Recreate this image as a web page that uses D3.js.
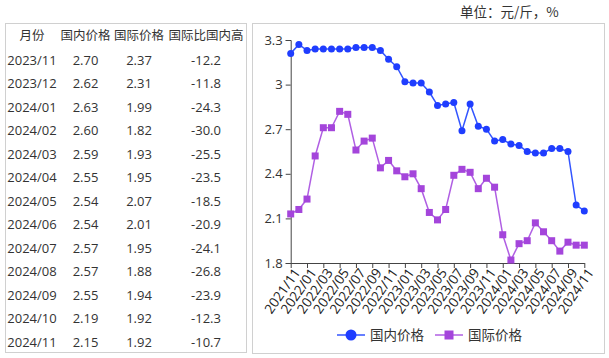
<!DOCTYPE html>
<html>
<head>
<meta charset="utf-8">
<script src="https://cdn.jsdelivr.net/npm/d3@7"></script>
<style>
  body { margin: 0; background: #fff; }
  svg { display: block; font-family: "Noto Sans CJK SC", "Noto Sans", sans-serif; }
</style>
</head>
<body>
<div id="chart"></div>
<script>
// monthly prices, yuan per jin
const months = [
  '2021/11', '2021/12', '2022/01', '2022/02', '2022/03', '2022/04', '2022/05', '2022/06',
  '2022/07', '2022/08', '2022/09', '2022/10', '2022/11', '2022/12', '2023/01', '2023/02',
  '2023/03', '2023/04', '2023/05', '2023/06', '2023/07', '2023/08', '2023/09', '2023/10',
  '2023/11', '2023/12', '2024/01', '2024/02', '2024/03', '2024/04', '2024/05', '2024/06',
  '2024/07', '2024/08', '2024/09', '2024/10', '2024/11'
];
const domestic = [
  3.21, 3.27, 3.23, 3.24, 3.24, 3.24, 3.24, 3.24, 3.25, 3.25, 3.25, 3.23, 3.17, 3.12,
  3.02, 3.01, 3.01, 2.95, 2.86, 2.87, 2.88, 2.69, 2.87, 2.72,
  2.70, 2.62, 2.63, 2.60, 2.59, 2.55, 2.54, 2.54, 2.57, 2.57, 2.55, 2.19, 2.15
];
const international = [
  2.13, 2.16, 2.23, 2.52, 2.71, 2.71, 2.82, 2.80, 2.56, 2.62, 2.64, 2.44, 2.49, 2.42,
  2.38, 2.40, 2.30, 2.14, 2.09, 2.16, 2.39, 2.43, 2.41, 2.30,
  2.37, 2.31, 1.99, 1.82, 1.93, 1.95, 2.07, 2.01, 1.95, 1.88, 1.94, 1.92, 1.92
];
// 国际比国内高 (%), last 13 months
const gapPct = [-12.2, -11.8, -24.3, -30.0, -25.5, -23.5, -18.5, -20.9, -24.1, -26.8, -23.9, -12.3, -10.7];
const tableHeaders = ['月份', '国内价格', '国际价格', '国际比国内高'];
const yTicks = [1.8, 2.1, 2.4, 2.7, 3.0, 3.3];
const seriesNames = ['国内价格', '国际价格'];

const W = 609, H = 358;
const svg = d3.select('#chart').append('svg').attr('width', W).attr('height', H);

// ---- table ----
const nRows = gapPct.length;
const start = months.length - nRows;
const rows = d3.range(nRows).map(i => [
  months[start + i],
  domestic[start + i].toFixed(2),
  international[start + i].toFixed(2),
  gapPct[i].toFixed(1)
]);

svg.append('rect')
  .attr('x', 5.5).attr('y', 23.5).attr('width', 241).attr('height', 329)
  .attr('fill', 'none').attr('stroke', '#d0d0d0');

const colX = [32, 85.5, 139, 206];
const table = svg.append('g').attr('fill', '#333');
table.selectAll('.head')
  .data(tableHeaders)
  .enter().append('text')
  .attr('x', (d, i) => colX[i])
  .attr('y', 36)
  .attr('dy', '0.35em')
  .attr('text-anchor', 'middle')
  .style('font-size', '12.5px')
  .text(d => d);

rows.forEach((r, ri) => {
  table.selectAll('.r' + ri)
    .data(r)
    .enter().append('text')
    .attr('x', (d, i) => colX[i])
    .attr('y', 60 + ri * 23.5)
    .attr('dy', '0.35em')
    .attr('text-anchor', 'middle')
    .style('font-size', '13px')
    .style('font-family', '"Open Sans", "Noto Sans", sans-serif')
    .text(d => d);
});

// ---- chart ----
svg.append('text')
  .attr('x', 460).attr('y', 12).attr('dy', '0.35em')
  .attr('fill', '#333')
  .style('font-size', '13.5px')
  .style('font-family', '"Noto Sans CJK SC", serif')
  .text('单位：元/斤，%');

svg.append('rect')
  .attr('x', 252.5).attr('y', 23.5).attr('width', 352).attr('height', 330)
  .attr('fill', 'none').attr('stroke', '#d0d0d0');

const x = d3.scalePoint().domain(months).range([290.7, 584.3]);
const y = d3.scaleLinear().domain([1.8, 3.3]).range([263, 40]);

const yAxis = svg.append('g')
  .attr('transform', 'translate(290.7,0)')
  .call(d3.axisLeft(y).tickValues(yTicks).tickSize(5).tickPadding(3)
    .tickFormat(d => d3.format('~g')(d)));
yAxis.select('.domain').attr('stroke', '#444');
yAxis.selectAll('.tick line').attr('stroke', '#444');
yAxis.selectAll('text').attr('fill', '#333').style('font-size', '13px')
  .style('font-family', '"Open Sans", "Noto Sans", sans-serif');

const xAxis = svg.append('g')
  .attr('transform', 'translate(0,263)')
  .call(d3.axisBottom(x).tickValues(months.filter((d, i) => i % 2 === 0)).tickSize(5).tickSizeOuter(0));
xAxis.select('.domain').attr('stroke', '#444');
xAxis.selectAll('.tick line').attr('stroke', '#444');
xAxis.selectAll('text')
  .attr('fill', '#222')
  .style('font-size', '13.5px')
  .style('font-family', '"Open Sans", "Noto Sans", sans-serif')
  .attr('text-anchor', 'end')
  .attr('transform', 'translate(3,5) rotate(-55)')
  .attr('x', 0).attr('y', 0)
  .attr('dy', '0.6em');

const colors = ['#1f3dff', '#a445db'];
const lineColors = ['#3355ff', '#b05fe3'];
const series = [domestic, international];

const line = d3.line().x((d, i) => x(months[i])).y(d => y(d));

series.forEach((vals, si) => {
  svg.append('path')
    .datum(vals)
    .attr('d', line)
    .attr('fill', 'none')
    .attr('stroke', lineColors[si])
    .attr('stroke-width', 1.5);
  if (si === 0) {
    svg.selectAll('.dot0')
      .data(vals)
      .enter().append('circle')
      .attr('cx', (d, i) => x(months[i]))
      .attr('cy', d => y(d))
      .attr('r', 3.5)
      .attr('fill', colors[0]);
  } else {
    svg.selectAll('.dot1')
      .data(vals)
      .enter().append('rect')
      .attr('x', (d, i) => x(months[i]) - 3.5)
      .attr('y', d => y(d) - 3.5)
      .attr('width', 7).attr('height', 7)
      .attr('fill', colors[1]);
  }
});

// legend
const legend = svg.append('g').attr('transform', 'translate(0,335)');
const legX = [337, 435];
seriesNames.forEach((name, i) => {
  const g = legend.append('g').attr('transform', `translate(${legX[i]},0)`);
  g.append('line').attr('x1', 0).attr('x2', 28).attr('stroke', lineColors[i]).attr('stroke-width', 1.5);
  if (i === 0) {
    g.append('circle').attr('cx', 14).attr('r', 5.5).attr('fill', colors[0]);
  } else {
    g.append('rect').attr('x', 9.5).attr('y', -4.5).attr('width', 9).attr('height', 9).attr('fill', colors[1]);
  }
  g.append('text').attr('x', 33).attr('dy', '0.35em')
    .attr('fill', '#333').style('font-size', '13.5px').text(name);
});
</script>
</body>
</html>
